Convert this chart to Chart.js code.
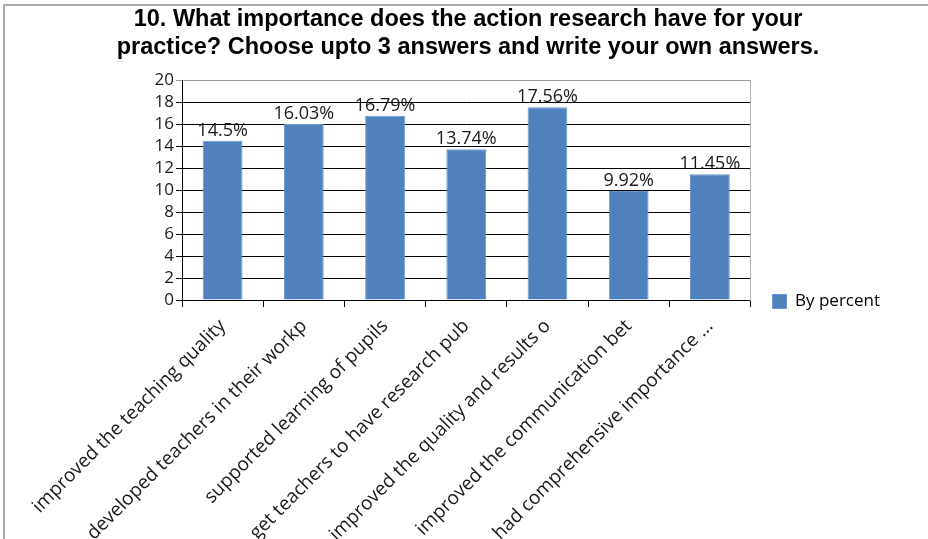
<!DOCTYPE html>
<html>
<head>
<meta charset="utf-8">
<script src="https://cdn.jsdelivr.net/npm/chart.js@4"></script>
<style>
  body { margin: 0; background: #fff; }
  #wrap { position: relative; width: 928px; height: 539px; }
  #frame { position: absolute; left: 3px; top: 4px; right: 0; bottom: 0; border-left: 2px solid #a9a9a9; border-top: 2px solid #a9a9a9; pointer-events: none; }
</style>
</head>
<body>
<div id="wrap">
  <canvas id="myChart" width="928" height="539"></canvas>
  <div id="frame"></div>
</div>
<script>
'use strict'

let answers = [
  'improved the teaching quality',
  'developed teachers in their workp',
  'supported learning of pupils',
  'get teachers to have research pub',
  'improved the quality and results o',
  'improved the communication bet',
  'had comprehensive importance ...'
];
let percents = [14.5, 16.03, 16.79, 13.74, 17.56, 9.92, 11.45];
let yTicks = [0, 2, 4, 6, 8, 10, 12, 14, 16, 18, 20];

let titleLines = [
  '10. What importance does the action research have for your',
  'practice? Choose upto 3 answers and write your own answers.'
];

// writes "xx%" above every bar
let valueLabels = {
  id: 'valueLabels',
  afterDatasetsDraw(chart) {
    let ctx = chart.ctx;
    let meta = chart.getDatasetMeta(0);
    ctx.save();
    ctx.font = '18px "Open Sans"';
    ctx.fillStyle = '#1a1a1a';
    ctx.textAlign = 'center';
    ctx.textBaseline = 'alphabetic';
    meta.data.forEach(function(bar, i) {
      ctx.fillText(percents[i] + '%', bar.x, bar.y - 5);
    });
    ctx.restore();
  }
};

// push the legend down so it sits level with the x axis
let legendNudge = {
  id: 'legendNudge',
  afterLayout(chart) {
    chart.legend.top += 20;
    chart.legend.bottom += 20;
  }
};

let chart = new Chart(document.getElementById('myChart'), {
  type: 'bar',
  data: {
    labels: answers,
    datasets: [{
      label: 'By percent',
      data: percents,
      backgroundColor: '#4f81bd',
      borderColor: '#6c97cb',
      borderWidth: 1,
      categoryPercentage: 1,
      barPercentage: 0.49
    }]
  },
  options: {
    responsive: false,
    animation: false,
    layout: { padding: { left: 46, right: 38, top: 0, bottom: 0 } },
    plugins: {
      title: {
        display: true,
        text: titleLines,
        color: '#000',
        font: { family: '"Liberation Sans", Arial, sans-serif', size: 23.5, weight: 'bold', lineHeight: 1.2 },
        padding: { top: 5, bottom: 19 }
      },
      legend: {
        position: 'right',
        align: 'end',
        fullSize: false,
        labels: {
          boxWidth: 14,
          boxHeight: 14,
          padding: 10,
          color: '#000',
          font: { family: '"Open Sans"', size: 17 }
        }
      },
      tooltip: { enabled: false }
    },
    scales: {
      x: {
        offset: true,
        grid: { drawOnChartArea: false, drawTicks: true, tickLength: 7, color: '#000', offset: true },
        border: { color: '#000' },
        ticks: {
          autoSkip: false,
          minRotation: 45,
          maxRotation: 45,
          padding: 8,
          color: '#1a1a1a',
          font: { family: '"Open Sans"', size: 19 }
        },
        afterFit(scale) { scale.height = 239; }
      },
      y: {
        min: 0,
        max: 20,
        afterBuildTicks(scale) { scale.ticks = yTicks.map(v => ({ value: v })); },
        grid: {
          color: ctx => (ctx.tick && ctx.tick.value === 20) ? '#9a9a9a' : '#000',
          lineWidth: 1,
          tickLength: 6
        },
        border: { color: '#000' },
        ticks: {
          autoSkip: false,
          padding: 2,
          color: '#1a1a1a',
          font: { family: '"Open Sans"', size: 17 }
        },
        afterFit(scale) { scale.width = 136; }
      },
      y2: {
        position: 'right',
        min: 0,
        max: 20,
        grid: { drawOnChartArea: false, drawTicks: false },
        border: { color: '#b4b4b4' },
        ticks: { display: false },
        afterFit(scale) { scale.width = 12; }
      }
    }
  },
  plugins: [valueLabels, legendNudge]
});
</script>
</body>
</html>
